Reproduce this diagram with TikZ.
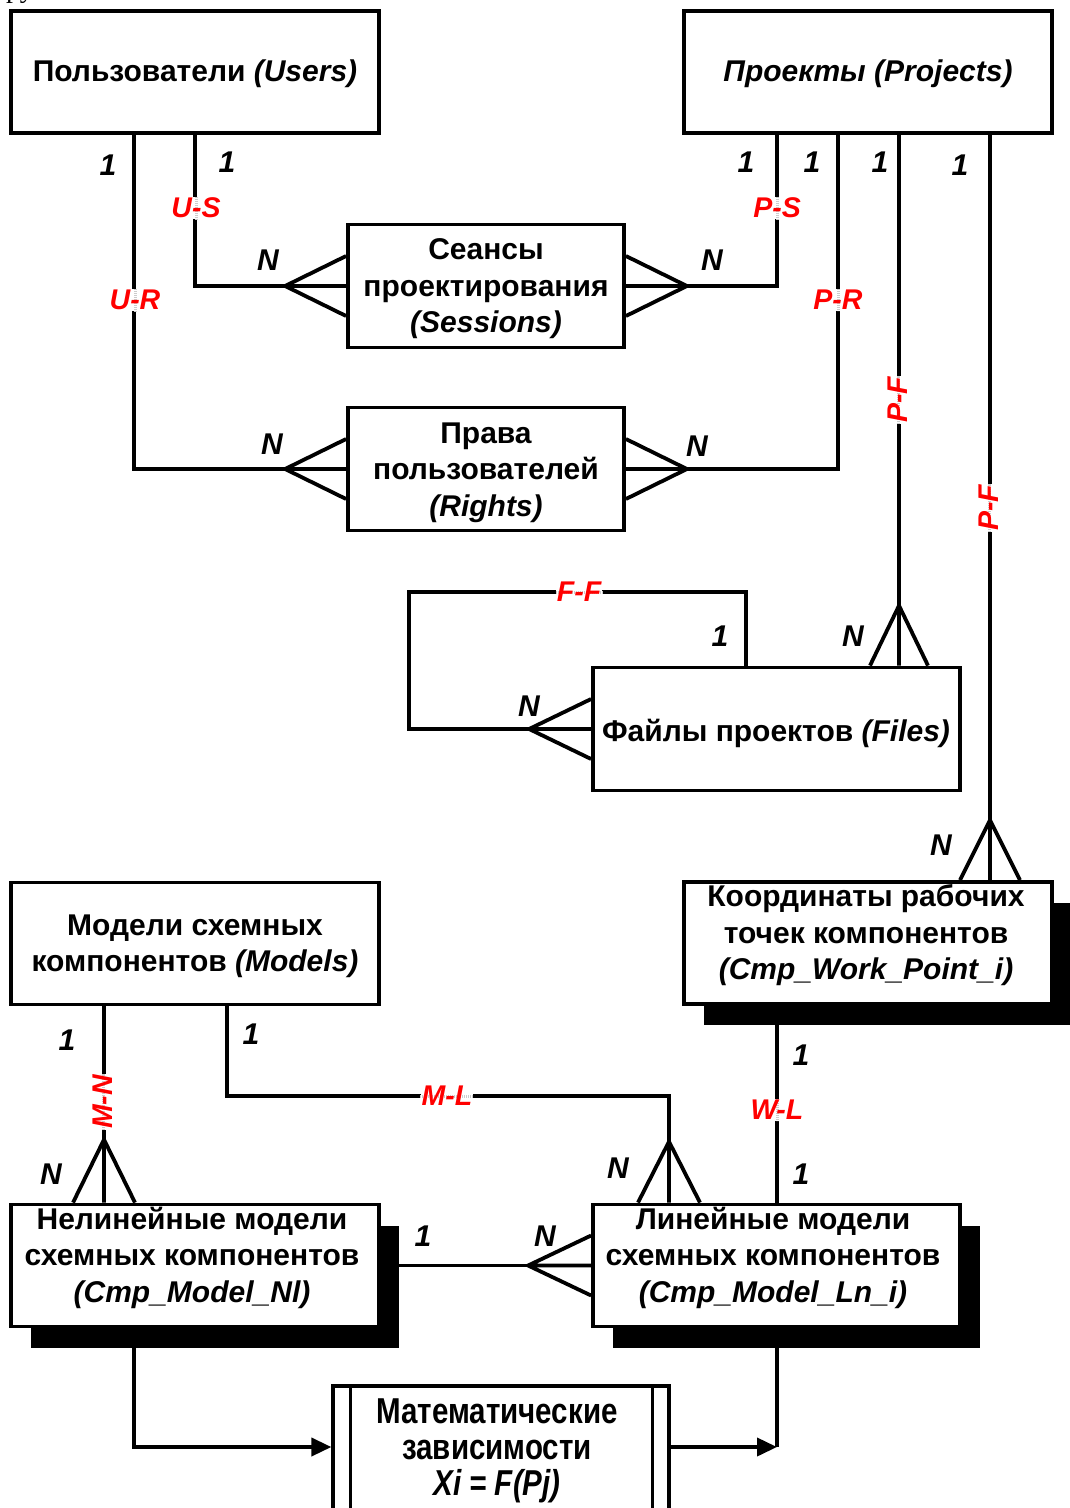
\documentclass[tikz,border=0pt]{standalone}
\usepackage{fontspec}
\setmainfont{Liberation Serif}
\newfontfamily\arialf{Liberation Sans}
\newfontfamily\narrowf[FakeStretch=0.82]{Liberation Sans}
\usetikzlibrary{arrows.meta,shadows}
\tikzset{
  ent/.style={draw, line width=3.8pt, fill=white, inner sep=0pt, minimum width=368pt, minimum height=122pt},
  ents/.style={ent, drop shadow={shadow xshift=20pt, shadow yshift=-21pt, opacity=1, fill=black}},
  txt/.style={font=\arialf\bfseries\fontsize{30}{36.5}\selectfont, align=center, inner sep=0pt},
  mtxt/.style={font=\narrowf\bfseries\fontsize{36}{36}\selectfont, align=center, inner sep=0pt},
  card/.style={font=\arialf\bfseries\itshape\fontsize{30}{30}\selectfont, inner sep=0pt},
  conn/.style={line width=3.8pt},
  rlbg/.style={fill=white, text=white, font=\arialf\bfseries\itshape\fontsize{28.5}{28.5}\selectfont, inner sep=1pt},
  rltx/.style={text=red, font=\arialf\bfseries\itshape\fontsize{28.5}{28.5}\selectfont, inner sep=1pt},
  gmark/.style={draw=gray!40, line width=3pt, dash pattern=on 1pt off 1pt},
  arr/.style={conn, -{Triangle[length=20pt,width=18pt]}}
}
\newcommand\crowH[3]{\draw[conn] ([yshift=#3]#2) -- (#1) -- ([yshift=-#3]#2) (#1) -- (#2);}
\newcommand\crowV[3]{\draw[conn] ([xshift=#3]#2) -- (#1) -- ([xshift=-#3]#2) (#1) -- (#2);}
\newcommand\redlab[6]{%
  \node[rlbg, rotate=#4] (#1) at (#2) {#3};
  \draw[gmark] (#1.#5) -- (#1.#6);
  \node[rltx, rotate=#4] (#1t) at (#2) {#3};}
\begin{document}
\begin{tikzpicture}[x=1pt,y=-1pt]
\useasboundingbox (0,0) rectangle (1070,1508);
\node[anchor=base west, font=\fontsize{28}{28}\selectfont, inner sep=0pt] (frag) at (6,-3) {ру};

% helper coordinates
\coordinate (x104) at (104,0);
\coordinate (x134) at (134,0);
\coordinate (x195) at (195,0);
\coordinate (x227) at (227,0);
\coordinate (x669) at (669,0);
\coordinate (x746) at (746,0);
\coordinate (x777) at (777,0);
\coordinate (x838) at (838,0);
\coordinate (x899) at (899,0);
\coordinate (x990) at (990,0);
\coordinate (y1447) at (0,1447);

% entities
\node[ent] (users) at (195,72) {};
\node[ent] (projects) at (868,72) {};
\node[ent, minimum width=276pt, minimum height=123pt] (sessions) at (486,286) {};
\node[ent, minimum width=276pt, minimum height=123pt] (rights) at (486,469) {};
\node[ent, minimum width=367pt, minimum height=123pt] (files) at (776.5,729) {};
\node[ents] (work) at (868,943) {};
\node[ent] (models) at (195,943.5) {};
\node[ents] (nl) at (195,1265.5) {};
\node[ents, minimum width=367pt] (ln) at (776.5,1265.5) {};
\node[ent, line width=3.2pt, minimum width=336pt, minimum height=150pt] (math) at (501,1461) {};
\draw[line width=3.2pt] ([xshift=19pt]math.north west) -- ([xshift=19pt]math.south west);
\draw[line width=3.2pt] ([xshift=-18pt]math.north east) -- ([xshift=-18pt]math.south east);

% texts
\node[txt] (usersT) at (195,74) {Пользователи \textit{(Users)}};
\node[txt] (projectsT) at (868,74) {\textit{Проекты (Projects)}};
\node[txt] (sessionsT) at (486,289) {Сеансы\\проектирования\\\textit{(Sessions)}};
\node[txt] (rightsT) at (486,472.5) {Права\\пользователей\\\textit{(Rights)}};
\node[txt] (filesT) at (776,733) {Файлы проектов \textit{(Files)}};
\node[txt] (workT) at (866,935.5) {Координаты рабочих\\точек компонентов\\\textit{(Cmp\_Work\_Point\_i)}};
\node[txt] (modelsT) at (195,946.5) {Модели схемных\\компонентов \textit{(Models)}};
\node[txt] (nlT) at (192,1257.5) {Нелинейные модели\\схемных компонентов\\\textit{(Cmp\_Model\_Nl)}};
\node[txt] (lnT) at (773,1257.5) {Линейные модели\\схемных компонентов\\\textit{(Cmp\_Model\_Ln\_i)}};
\node[mtxt] (mathT) at (497,1451) {Математические\\зависимости\\\textit{Xi = F(Pj)}};

% connector end points
\coordinate (urT) at ([xshift=-61pt]rights.west);
\coordinate (usT) at ([xshift=-61pt]sessions.west);
\coordinate (psT) at ([xshift=61pt]sessions.east);
\coordinate (prT) at ([xshift=61pt]rights.east);
\coordinate (pf1F) at (files.north -| x899);
\coordinate (pf1T) at ([yshift=60pt]pf1F);
\coordinate (pf2F) at (work.north -| x990);
\coordinate (pf2T) at ([yshift=60pt]pf2F);
\coordinate (ffT) at ([xshift=-62pt]files.west);
\coordinate (ffC1) at (746,592);
\coordinate (ffC2) at (409,592);
\coordinate (mnF) at (nl.north -| x104);
\coordinate (mnT) at ([yshift=63pt]mnF);
\coordinate (mlF) at (ln.north -| x669);
\coordinate (mlT) at ([yshift=61pt]mlF);
\coordinate (mlC) at (669,1096);
\coordinate (nlnT) at ([xshift=-63pt]ln.west);
\coordinate (lnD) at (777,1447);

% relationships
\draw[conn] (users.south -| x134) |- (urT);
\crowH{urT}{rights.west}{30pt}
\draw[conn] (users.south -| x195) |- (usT);
\crowH{usT}{sessions.west}{30pt}
\draw[conn] (projects.south -| x777) |- (psT);
\crowH{psT}{sessions.east}{30pt}
\draw[conn] (projects.south -| x838) |- (prT);
\crowH{prT}{rights.east}{30pt}
\draw[conn] (projects.south -| x899) -- (pf1T);
\crowV{pf1T}{pf1F}{29pt}
\draw[conn] (projects.south -| x990) -- (pf2T);
\crowV{pf2T}{pf2F}{30pt}
\draw[conn] (files.north -| x746) -- (ffC1) -- (ffC2) |- (ffT);
\crowH{ffT}{files.west}{30pt}
\draw[conn] (models.south -| x104) -- (mnT);
\crowV{mnT}{mnF}{31pt}
\draw[conn] (models.south -| x227) |- (mlC) -- (mlT);
\crowV{mlT}{mlF}{31pt}
\draw[conn] (work.south -| x777) -- (ln.north -| x777);
\draw[conn] (nl.east) -- (nlnT);
\crowH{nlnT}{ln.west}{30pt}
\draw[arr] (nl.south -| x134) |- (math.west |- y1447);
\draw[conn] (ln.south -| x777) -- (lnD);
\draw[arr] (math.east |- y1447) -- (lnD);

% relationship names
\redlab{lUS}{196,208}{U-S}{0}{north}{south}
\redlab{lUR}{135,300}{U-R}{0}{north}{south}
\redlab{lPS}{777,208}{P-S}{0}{north}{south}
\redlab{lPR}{838,300}{P-R}{0}{north}{south}
\redlab{lPF1}{898,400}{P-F}{90}{west}{east}
\redlab{lPF2}{989,508}{P-F}{90}{west}{east}
\redlab{lFF}{579,592}{F-F}{0}{west}{east}
\redlab{lMN}{103,1102}{M-N}{90}{west}{east}
\redlab{lML}{447,1096}{M-L}{0}{west}{east}
\redlab{lWL}{777,1110}{W-L}{0}{north}{south}

% cardinalities
\node[card] (c1) at (108,165) {1};
\node[card] (c2) at (227,162) {1};
\node[card] (c3) at (268,260) {N};
\node[card] (c4) at (272,444) {N};
\node[card] (c5) at (746,162) {1};
\node[card] (c6) at (812,162) {1};
\node[card] (c7) at (880,162) {1};
\node[card] (c8) at (960,165) {1};
\node[card] (c9) at (712,260) {N};
\node[card] (c10) at (697,446) {N};
\node[card] (c11) at (853,636) {N};
\node[card] (c12) at (720,636) {1};
\node[card] (c13) at (529,706) {N};
\node[card] (c14) at (941,845) {N};
\node[card] (c15) at (67,1040) {1};
\node[card] (c16) at (251,1034) {1};
\node[card] (c17) at (51,1174) {N};
\node[card] (c18) at (618,1168) {N};
\node[card] (c19) at (801,1055) {1};
\node[card] (c20) at (801,1174) {1};
\node[card] (c21) at (423,1236) {1};
\node[card] (c22) at (545,1236) {N};
\end{tikzpicture}
\end{document}
